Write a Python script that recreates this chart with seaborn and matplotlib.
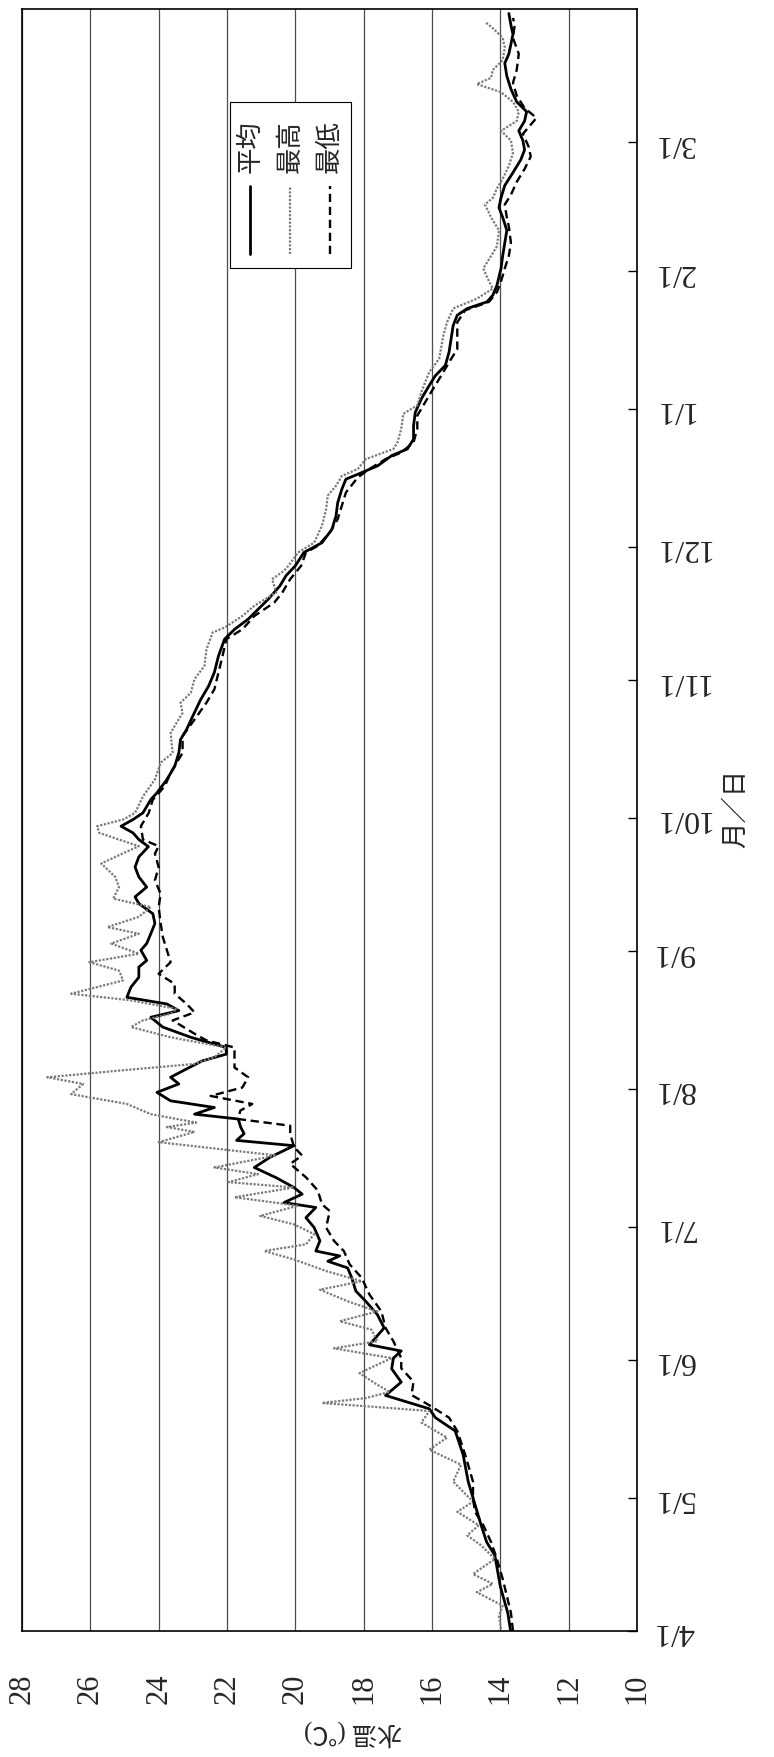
import pandas as pd
import matplotlib
matplotlib.use("Agg")
import matplotlib.pyplot as plt
import seaborn as sns
from matplotlib.patches import Rectangle

# days counted from 4/1, water temperature (deg C)
avg_days = [0, 4, 10, 17, 20, 24, 30, 33.6, 39.7, 45, 48, 50, 53, 56, 59, 61.4, 63, 64.4, 68.2, 71.2,
            74.2, 76.5, 79.5, 81.7, 83.2, 84.4, 85.5, 87.8, 90.8, 93, 95.3, 96.4, 98.3, 99.8, 102, 104.3,
            106.6, 109.2, 110.4, 111.9, 113.4, 115.2, 116.3, 117.8, 119.3, 121.2, 123.1, 124.6, 126.5,
            128.3, 129.8, 131.3, 133.6, 135.9, 138.1, 139.6, 141.1, 142.6, 144.9, 147.1, 149.4, 150.9,
            153.2, 154.7, 156.9, 159.2, 161.4, 163.7, 165.2, 167.4, 169.7, 171.9, 174.2, 176.5, 178.1,
            179.6, 181.1, 182.6, 184.1, 187.1, 188.6, 191.6, 194.6, 197.6, 200.6, 202.9, 205.9, 209.6,
            212.6, 215.7, 219.4, 223.2, 225.4, 227.7, 229.9, 232.2, 235.2, 237.5, 239.7, 242.7, 244.9,
            247.9, 250.9, 253.9, 256.9, 259.2, 260.3, 262.2, 264.5, 266, 268.2, 271.2, 274.2, 277.3,
            280.3, 282.5, 284.8, 287.8, 290.8, 293.8, 296.1, 297.6, 299.1, 300.6, 302.8, 306.6, 309.5,
            312.4, 315.2, 318.1, 320.3, 322.5, 325.3, 328.2, 331.1, 333.3, 335.4, 337.6, 339.8, 341.9,
            344.1, 347, 349.9, 352.8, 354.9, 357.1, 359.3, 361.4, 364]
avg_temp = [13.7, 13.78, 14.0, 14.16, 14.4, 14.57, 14.8, 14.94, 15.09, 15.32, 15.9, 16.08, 17.36, 16.9,
            17.18, 17.13, 16.9, 17.83, 17.4, 17.6, 17.94, 18.23, 18.35, 18.47, 19.05, 18.7, 19.4, 19.28,
            19.45, 19.69, 19.4, 20.33, 19.8, 20.04, 20.56, 21.2, 20.74, 20.04, 21.72, 21.5, 21.6, 21.67,
            22.95, 22.37, 23.65, 24.05, 23.41, 23.65, 23.18, 22.72, 22.02, 22.02, 23.06, 23.88, 24.23,
            23.41, 23.76, 24.93, 24.81, 24.58, 24.58, 24.35, 24.52, 24.35, 24.23, 24.11, 24.17, 24.58,
            24.69, 24.35, 24.58, 24.69, 24.58, 24.3, 24.58, 24.75, 25.1, 24.75, 24.46, 24.23, 24.05,
            23.76, 23.53, 23.41, 23.36, 23.18, 23.0, 22.77, 22.54, 22.37, 22.25, 22.07, 21.78, 21.38,
            21.09, 20.79, 20.45, 20.27, 20.0, 19.75, 19.22, 18.93, 18.81, 18.76, 18.64, 18.52, 18.17,
            17.59, 17.18, 16.72, 16.54, 16.54, 16.49, 16.31, 16.08, 15.9, 15.61, 15.5, 15.44, 15.38,
            15.26, 14.97, 14.39, 14.22, 14.1, 13.98, 13.93, 13.87, 13.81, 13.93, 14.04, 13.98, 13.87,
            13.63, 13.4, 13.29, 13.34, 13.46, 13.29, 13.23, 13.52, 13.69, 13.81, 13.87, 13.75, 13.69,
            13.63, 13.69, 13.75]

max_days = [0.4, 3.4, 5.7, 8.7, 10.6, 12.8, 16.2, 19.3, 21.5, 23.8, 26.8, 29.1, 33.6, 37.4, 40.8, 43.5,
            46.9, 49.5, 51.3, 52.4, 53.8, 55.4, 58, 59.1, 61.4, 63.6, 65.2, 67.8, 69.7, 71.9, 74.2, 76.8,
            78.7, 81, 83.6, 85.5, 87, 89.3, 91.5, 93.4, 95.7, 97.6, 99.8, 101, 102.8, 104.3, 107, 110,
            112.3, 113.4, 114.4, 116.3, 118.6, 120.8, 123.1, 124.6, 126.1, 127.6, 129.1, 131.3, 133.6,
            135.9, 137.4, 138.9, 140, 141.9, 143.4, 146.4, 148.6, 150.5, 152.4, 154.7, 156.9, 158.4,
            160.7, 162.9, 164.8, 167.4, 169.7, 172.7, 175, 176.6, 179.6, 181.1, 182.6, 184.1, 187.8,
            191.6, 195.4, 197.6, 202.1, 206.6, 208.9, 211.1, 214.2, 217.2, 220.9, 224.7, 225.8, 228.4,
            230.7, 233.7, 236.7, 238.6, 239.7, 242.7, 244.9, 248.7, 252.4, 255.5, 257.7, 259.9, 261.5,
            263.7, 266, 267.5, 270.5, 273.9, 275.8, 278.8, 281, 283.3, 286.3, 291.5, 294.5, 297.6, 299.8,
            302.1, 303.7, 306.6, 308.7, 311.6, 315.2, 318.1, 321, 322.5, 324.6, 326.8, 329.7, 332.6,
            335.4, 337.6, 339.8, 341.9, 344.1, 346.3, 348.1, 349.5, 351.3, 353.5, 356.4, 358.5, 360.7,
            362.1]
max_temp = [13.98, 14.04, 13.93, 14.69, 14.22, 14.8, 14.16, 14.57, 14.97, 14.63, 15.26, 14.8, 15.38,
            15.15, 16.08, 15.56, 16.31, 16.08, 19.22, 17.94, 17.24, 17.6, 18.12, 17.83, 17.18, 18.87,
            17.6, 17.77, 18.7, 17.6, 18.47, 19.28, 18.06, 19.1, 20.04, 20.91, 19.69, 19.45, 20.04, 21.03,
            19.92, 21.78, 20.04, 21.96, 21.09, 22.37, 20.56, 24.0, 22.95, 23.76, 22.9, 24.23, 24.93,
            26.56, 26.21, 27.26, 25.16, 22.95, 22.37, 22.02, 23.65, 24.81, 24.46, 23.65, 23.47, 24.81,
            26.56, 25.04, 25.16, 26.03, 24.58, 25.39, 24.58, 25.5, 24.58, 24.23, 25.33, 25.16, 25.27,
            25.68, 25.04, 24.58, 25.74, 25.8, 25.04, 24.69, 24.46, 24.11, 23.94, 23.59, 23.65, 23.3,
            23.36, 23.06, 22.95, 22.66, 22.6, 22.42, 22.07, 21.55, 21.2, 20.56, 20.68, 20.33, 20.2,
            19.92, 19.45, 19.22, 19.1, 19.05, 18.81, 18.64, 18.17, 17.94, 17.13, 17.01, 16.9, 16.84,
            16.43, 16.31, 16.2, 16.08, 15.79, 15.67, 15.56, 15.38, 14.69, 14.22, 14.33, 14.5, 14.33,
            14.1, 14.04, 14.27, 14.45, 14.22, 14.1, 13.93, 13.75, 13.63, 13.69, 13.98, 13.52, 13.46,
            13.63, 13.98, 14.69, 14.27, 14.22, 13.93, 13.87, 13.93, 14.22, 14.45]

min_days = [0, 4.1, 7.9, 11.7, 16.2, 20, 23.8, 26.8, 29.8, 33.6, 39.7, 45, 48, 50.8, 53.1, 56.1, 59.1,
            61.4, 65.2, 68.2, 71.9, 75.7, 79.5, 82.5, 85.5, 87.8, 90.8, 94.5, 96, 99.1, 102.1, 105.1,
            107, 108.9, 111.9, 113.7, 115.2, 117.1, 118.6, 120.4, 122.3, 124.6, 126.8, 129.1, 131.3,
            132.9, 134.4, 137.4, 139.2, 141.1, 143.4, 145.6, 147.9, 150.5, 153.2, 156.2, 159.2, 162.9,
            165.9, 168.9, 171.9, 174.9, 176.6, 178.1, 181.1, 184.1, 187.1, 190.1, 193.1, 197.6, 201.4,
            205.1, 208.9, 211.9, 215.7, 219.4, 223.2, 225.4, 228.4, 231.4, 233.7, 236.7, 239.7, 242.7,
            244.2, 247.2, 250.2, 253.2, 256.2, 259.6, 261.5, 263.7, 265.2, 267.5, 270.5, 273.5, 276.5,
            279.5, 282.5, 285.5, 288.5, 291.5, 294.5, 297.2, 299.1, 301.3, 303.7, 306.6, 309.5, 312.4,
            316, 318.1, 321, 323.2, 326.1, 329, 331.8, 334, 336.9, 340.5, 342.7, 345.5, 348.4, 351.3,
            354.9, 358.5, 361.4, 363]
min_temp = [13.63, 13.69, 13.81, 13.93, 14.1, 14.27, 14.5, 14.74, 14.8, 14.8, 15.03, 15.26, 15.5, 16.08,
            16.6, 16.54, 16.9, 16.9, 17.13, 17.36, 17.48, 17.83, 18.06, 18.41, 18.58, 18.87, 19.1, 18.99,
            19.22, 19.34, 19.69, 20.15, 19.8, 20.04, 20.15, 20.15, 21.67, 21.61, 21.26, 22.48, 21.55,
            21.38, 21.78, 21.78, 21.78, 22.6, 22.95, 23.59, 22.95, 23.18, 23.53, 23.53, 24.0, 23.65,
            23.76, 23.88, 23.94, 24.0, 23.94, 24.11, 24.0, 24.11, 24.0, 24.46, 24.52, 24.29, 24.17,
            23.82, 23.65, 23.3, 23.3, 22.95, 22.6, 22.37, 22.25, 22.13, 22.02, 21.55, 21.2, 20.62,
            20.38, 20.15, 19.83, 19.69, 19.34, 18.99, 18.76, 18.64, 18.52, 18.17, 17.83, 17.36, 16.9,
            16.54, 16.43, 16.43, 16.2, 15.97, 15.73, 15.5, 15.26, 15.26, 15.26, 15.03, 14.33, 14.1,
            13.98, 13.87, 13.75, 13.69, 13.75, 13.81, 13.87, 13.69, 13.52, 13.29, 13.11, 13.17, 13.34,
            12.94, 13.29, 13.52, 13.63, 13.52, 13.46, 13.63, 13.58, 13.63]

series_names = ["平均", "最高", "最低"]
temp_ticks = [10, 12, 14, 16, 18, 20, 22, 24, 26, 28]

month_starts = pd.date_range("2019-04-01", periods=12, freq="MS")
month_days = [(d - month_starts[0]).days for d in month_starts]
month_labels = [f"{d.month}/{d.day}" for d in month_starts]

sns.set_style("white")
plt.rcParams["font.family"] = ["Liberation Serif", "Noto Sans CJK JP"]

fig = plt.figure(figsize=(7.74, 17.58), dpi=100)
ax = fig.add_axes([0.0284, 0.0717, 0.7946, 0.9226])

styles = [
    dict(color="black", lw=2.0, linestyle="-"),
    dict(color="#7a7a7a", lw=1.6, linestyle=(0, (1, 0.7))),
    dict(color="black", lw=1.7, linestyle=(0, (3.5, 2))),
]
for days, temps, st in zip([avg_days, max_days, min_days], [avg_temp, max_temp, min_temp], styles):
    df = pd.DataFrame({"day": days, "temp": temps})
    sns.lineplot(data=df, x="temp", y="day", orient="y", sort=False, estimator=None, ax=ax, zorder=5, **st)

ax.set_xlim(28, 10)
ax.set_ylim(0, 365)
ax.set_axisbelow(True)
ax.grid(axis="x", color="#4d4d4d", lw=0.9)
ax.grid(axis="y", visible=False)
for sp in ax.spines.values():
    sp.set_visible(True)
    sp.set_color("black")
    sp.set_linewidth(1.2)

ax.set_xticks(temp_ticks)
ax.set_xticklabels([str(t) for t in temp_ticks], rotation=90, fontsize=22, va="top", ha="center")
ax.tick_params(axis="x", length=0, pad=30)

ax.yaxis.tick_right()
ax.set_yticks(month_days)
ax.set_yticklabels(month_labels, rotation=180, fontsize=23, ha="left", va="center")
ax.tick_params(axis="y", direction="in", length=6.5, width=1, pad=12, right=True, left=False, color="black")

ax.set_xlabel("水温 (℃)", fontsize=18, rotation=180, ha="center", va="center")
ax.xaxis.set_label_coords(0.538, -0.0623)
ax.yaxis.set_label_position("right")
ax.set_ylabel("月／日", fontsize=19, rotation=90, ha="center", va="center")
ax.yaxis.set_label_coords(1.16, 0.508)

# legend, turned like the rest of the chart
ax.add_patch(Rectangle((0.338, 0.8403), 0.197, 0.1024, transform=ax.transAxes,
                       facecolor="white", edgecolor="black", lw=0.8, zorder=6))
for cx, name, st in zip([0.371, 0.436, 0.501], series_names, styles):
    ax.plot([cx, cx], [0.849, 0.891], transform=ax.transAxes, zorder=7, **st)
    ax.text(cx, 0.916, name, transform=ax.transAxes, rotation=90, ha="center", va="center",
            fontsize=19, zorder=7)

fig.savefig("out.png", dpi=100)
